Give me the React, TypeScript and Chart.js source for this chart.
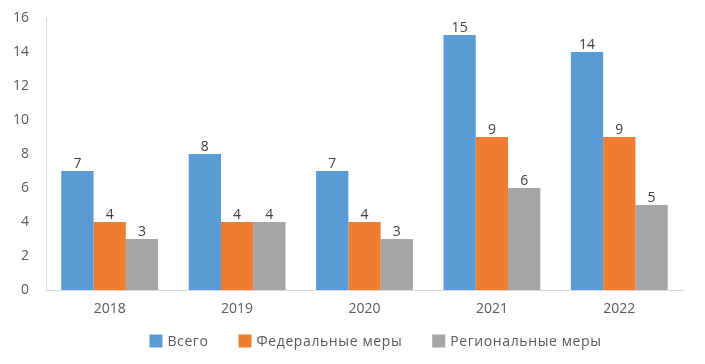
import React, { useEffect, useRef } from "react";
import { Chart, registerables } from "chart.js";

Chart.register(...registerables);

const categories = ["2018", "2019", "2020", "2021", "2022"];
const totalValues = [7, 8, 7, 15, 14];
const federalValues = [4, 4, 4, 9, 9];
const regionalValues = [3, 4, 3, 6, 5];
const seriesNames = ["Всего", "Федеральные меры", "Региональные меры"];
const seriesColors = ["#5B9BD5", "#ED7D31", "#A5A5A5"];

const FONT = "'Open Sans', 'Noto Sans', sans-serif";
const TEXT = "#595959";

const labelPlugin = {
  id: "valueLabels",
  afterDatasetsDraw(chart: any) {
    const ctx = chart.ctx;
    ctx.save();
    ctx.font = `14px ${FONT}`;
    ctx.fillStyle = "#404040";
    ctx.textAlign = "center";
    ctx.textBaseline = "bottom";
    chart.data.datasets.forEach((ds: any, i: number) => {
      const meta = chart.getDatasetMeta(i);
      meta.data.forEach((bar: any, j: number) => {
        ctx.fillText(String(ds.data[j]), bar.x, bar.y);
      });
    });
    ctx.restore();
  },
};

const legendPlugin = {
  id: "customLegend",
  afterDraw(chart: any) {
    const ctx = chart.ctx;
    ctx.save();
    ctx.font = `14px ${FONT}`;
    (ctx as any).letterSpacing = "0.6px";
    const box = 13;
    const gap = 5;
    const itemGap = 30;
    const items = chart.data.datasets.map((ds: any) => ({
      label: ds.label,
      color: ds.backgroundColor,
      w: box + gap + ctx.measureText(ds.label).width,
    }));
    const total = items.reduce((s: number, it: any) => s + it.w, 0) + itemGap * (items.length - 1);
    const centerX = chart.width / 2 + 23;
    const cy = chart.height - 23;
    let x = centerX - total / 2;
    ctx.textBaseline = "middle";
    ctx.textAlign = "left";
    items.forEach((it: any) => {
      ctx.fillStyle = it.color;
      ctx.fillRect(x, cy - box / 2, box, box);
      ctx.fillStyle = TEXT;
      ctx.fillText(it.label, x + box + gap, cy + 1);
      x += it.w + itemGap;
    });
    ctx.restore();
  },
};

export default function App() {
  const ref = useRef<HTMLCanvasElement>(null);
  useEffect(() => {
    document.body.style.margin = "0";
    const chart = new Chart(ref.current!, {
      type: "bar",
      data: {
        labels: categories,
        datasets: [totalValues, federalValues, regionalValues].map((d, i) => ({
          label: seriesNames[i],
          data: d,
          backgroundColor: seriesColors[i],
          borderWidth: 0,
          categoryPercentage: 0.76,
          barPercentage: 1,
        })),
      },
      options: {
        animation: false,
        responsive: false,
        layout: { padding: { top: 18, right: 22, left: 0, bottom: 46 } },
        plugins: {
          legend: { display: false },
          tooltip: { enabled: false },
        },
        scales: {
          x: {
            grid: { display: false },
            border: { display: true, color: "#D9D9D9" },
            ticks: { color: TEXT, font: { family: FONT, size: 14 }, padding: 3 },
            afterFit(scale: any) {
              scale.height = 28;
            },
          },
          y: {
            min: 0,
            max: 16,
            grid: { display: false },
            border: { display: true, color: "#D9D9D9" },
            ticks: { stepSize: 2, color: TEXT, font: { family: FONT, size: 14 }, padding: 9 },
            afterFit(scale: any) {
              scale.width = 46;
            },
          },
        },
      },
      plugins: [labelPlugin, legendPlugin],
    });
    return () => chart.destroy();
  }, []);
  return (
    <div style={{ width: 705, height: 364, background: "#fff" }}>
      <canvas ref={ref} width={705} height={364} />
    </div>
  );
}
